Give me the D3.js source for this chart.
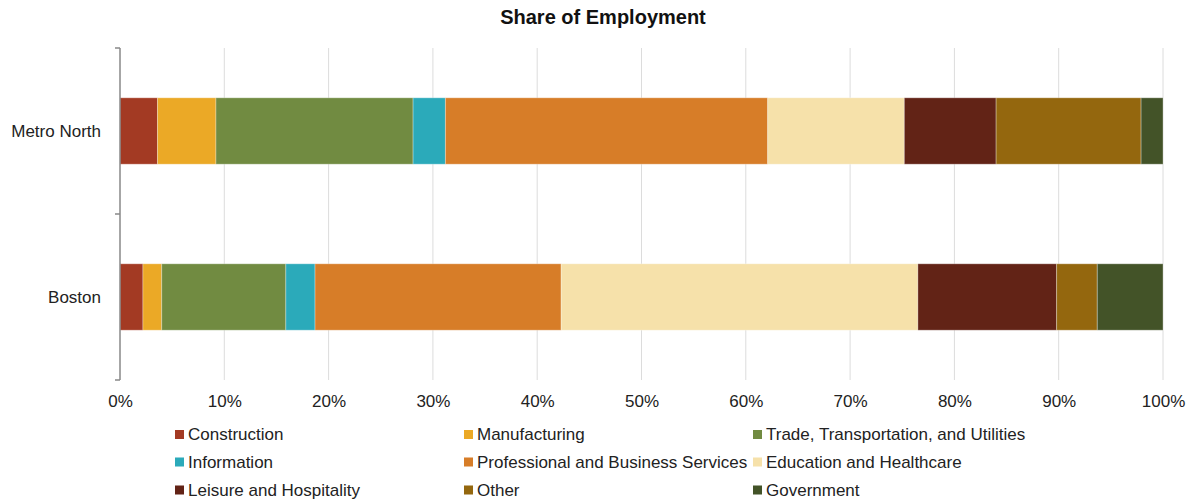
<!DOCTYPE html>
<html>
<head>
<meta charset="utf-8">
<script src="https://cdn.jsdelivr.net/npm/d3@7"></script>
<style>
  html, body { margin: 0; padding: 0; background: #fff; }
  svg { display: block; font-family: "Liberation Sans", Arial, sans-serif; }
</style>
</head>
<body>
<svg id="chart" width="1189" height="503"></svg>
<script>
// Regions shown as horizontal stacked bars
const regions = ["Metro North", "Boston"];

// Industry sectors (stack order, left to right)
const sectors = [
  "Construction",
  "Manufacturing",
  "Trade, Transportation, and Utilities",
  "Information",
  "Professional and Business Services",
  "Education and Healthcare",
  "Leisure and Hospitality",
  "Other",
  "Government"
];

// Share of employment (%) per sector, one array per region
const metroNorth = [3.6, 5.6, 18.9, 3.1, 30.9, 13.1, 8.8, 13.9, 2.1];
const boston     = [2.2, 1.8, 11.9, 2.8, 23.6, 34.2, 13.3, 3.9, 6.3];

const sectorColors = [
  "#a33a23", "#eba926", "#718b41", "#2baaba", "#d77d28",
  "#f6e1aa", "#622316", "#94670e", "#435328"
];

const xTicks = [0, 0.1, 0.2, 0.3, 0.4, 0.5, 0.6, 0.7, 0.8, 0.9, 1.0];

const svg = d3.select("#chart");
const margin = { top: 48, left: 120, right: 26, bottom: 123 };
const W = 1189, H = 503;
const innerW = W - margin.left - margin.right;
const innerH = H - margin.top - margin.bottom;
const fontSize = 17;

const rows = regions.map((r, i) => {
  const vals = [metroNorth, boston][i];
  const row = { region: r };
  sectors.forEach((s, j) => row[s] = vals[j] / 100);
  return row;
});

const stack = d3.stack().keys(sectors);
const series = stack(rows);

const x = d3.scaleLinear().domain([0, 1]).range([margin.left, margin.left + innerW]);
const y = d3.scaleBand().domain(regions).range([margin.top, margin.top + innerH]).paddingInner(0.6).paddingOuter(0.3);
const color = d3.scaleOrdinal().domain(sectors).range(sectorColors);

// Title
svg.append("text")
  .attr("x", 603).attr("y", 24)
  .attr("text-anchor", "middle")
  .attr("font-size", 20).attr("font-weight", "bold")
  .attr("fill", "#111")
  .text("Share of Employment");

// Vertical gridlines
svg.append("g")
  .selectAll("line")
  .data(xTicks.slice(1))
  .join("line")
  .attr("x1", d => x(d)).attr("x2", d => x(d))
  .attr("y1", margin.top).attr("y2", margin.top + innerH)
  .attr("stroke", "#dcdcdc").attr("stroke-width", 1);

// Stacked bars
svg.append("g")
  .selectAll("g")
  .data(series)
  .join("g")
  .attr("fill", d => color(d.key))
  .selectAll("rect")
  .data(d => d)
  .join("rect")
  .attr("x", d => x(d[0]))
  .attr("width", d => x(d[1]) - x(d[0]))
  .attr("y", d => y(d.data.region))
  .attr("height", y.bandwidth())
  .attr("stroke", "#ffffff").attr("stroke-opacity", 0.3).attr("stroke-width", 1);

// X axis labels
const xAxis = d3.axisBottom(x).tickValues(xTicks).tickFormat(d3.format(".0%")).tickSize(0).tickPadding(15);
const gx = svg.append("g").attr("transform", `translate(0,${margin.top + innerH})`).call(xAxis);
gx.select(".domain").remove();
gx.selectAll("text").attr("font-size", fontSize).attr("fill", "#222").attr("font-family", "Liberation Sans, Arial, sans-serif");

// Y axis with boundary ticks between categories
const gy = svg.append("g");
gy.append("line")
  .attr("x1", margin.left).attr("x2", margin.left)
  .attr("y1", margin.top).attr("y2", margin.top + innerH)
  .attr("stroke", "#888").attr("stroke-width", 1.5);
const step = innerH / regions.length;
gy.selectAll("line.tk")
  .data(d3.range(regions.length + 1))
  .join("line")
  .attr("class", "tk")
  .attr("x1", margin.left - 5).attr("x2", margin.left)
  .attr("y1", i => margin.top + i * step).attr("y2", i => margin.top + i * step)
  .attr("stroke", "#888").attr("stroke-width", 1.5);
gy.selectAll("text")
  .data(regions)
  .join("text")
  .attr("x", margin.left - 19)
  .attr("y", d => y(d) + y.bandwidth() / 2)
  .attr("dy", "0.35em")
  .attr("text-anchor", "end")
  .attr("font-size", fontSize).attr("fill", "#222")
  .text(d => d);

// Legend: three columns
const legend = svg.append("g");
const colX = [175, 464, 753];
const rowY = [434.5, 462, 490];
const items = legend.selectAll("g")
  .data(sectors)
  .join("g")
  .attr("transform", (d, i) => `translate(${colX[i % 3]},${rowY[Math.floor(i / 3)]})`);
items.append("rect")
  .attr("x", 0).attr("y", -4.5).attr("width", 9).attr("height", 9)
  .attr("fill", d => color(d));
items.append("text")
  .attr("x", 13).attr("dy", "0.35em")
  .attr("font-size", fontSize).attr("fill", "#222")
  .text(d => d);
</script>
</body>
</html>
